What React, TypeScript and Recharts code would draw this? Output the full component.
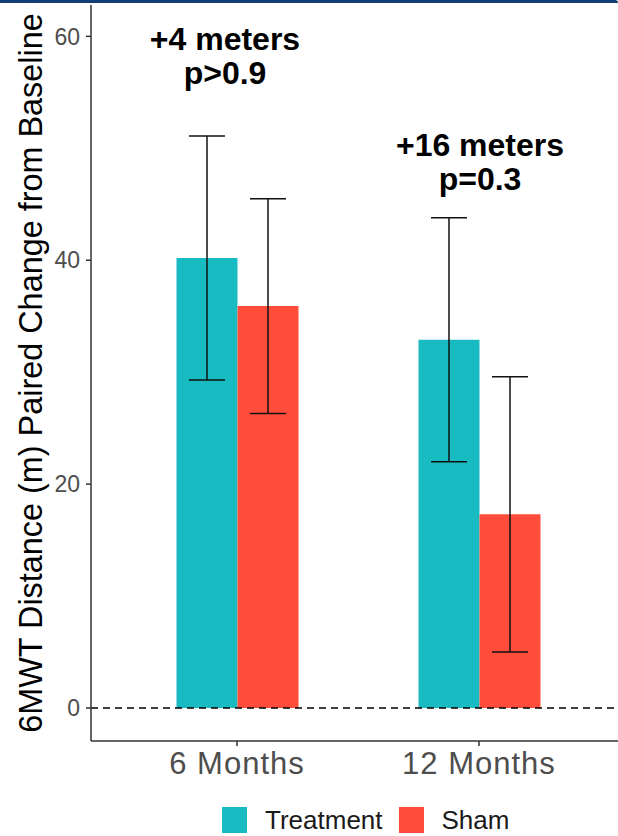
import React from "react";
import { ComposedChart, Bar, XAxis, YAxis, ErrorBar, ReferenceLine, ReferenceDot, Legend } from "recharts";

const categories = ["6 Months", "12 Months"];
const treatment = [40.2, 32.9];
const sham = [35.9, 17.3];
const treatmentErr = [10.9, 10.9];
const shamErr = [9.6, 12.3];
const yTicks = [0, 20, 40, 60];
const annotY = [58.1, 48.6];
const annotLines = [
  ["+4 meters", "p>0.9"],
  ["+16 meters", "p=0.3"],
];

const TEAL = "#19BBC3";
const RED = "#FF4C3B";
const FONT = "'Liberation Sans', Arial, sans-serif";
const NUDGE = [-12, 1];

const data = categories.map((name, i) => ({
  name,
  treatment: treatment[i],
  sham: sham[i],
  tErr: treatmentErr[i],
  sErr: shamErr[i],
}));

function Annot(props: any) {
  const { cx, cy, idx } = props;
  const x = cx + NUDGE[idx];
  return (
    <g>
      <text x={x} y={cy - 8} textAnchor="middle" fontFamily={FONT} fontWeight="bold" fontSize={32} fill="#000">
        {annotLines[idx][0]}
      </text>
      <text x={x} y={cy + 26} textAnchor="middle" fontFamily={FONT} fontWeight="bold" fontSize={32} fill="#000">
        {annotLines[idx][1]}
      </text>
    </g>
  );
}

function YTitle(props: any) {
  const vb = props.viewBox;
  const cy = vb.y + vb.height / 2;
  return (
    <text x={42} y={cy} transform={`rotate(-90 42 ${cy})`} textAnchor="middle" fontFamily={FONT} fontSize={32.4} fill="#000">
      6MWT Distance (m) Paired Change from Baseline
    </text>
  );
}

function renderLegend() {
  const items = [
    { label: "Treatment", color: TEAL },
    { label: "Sham", color: RED },
  ];
  return (
    <div style={{ height: 36, display: "flex", alignItems: "flex-start", paddingLeft: 222, paddingTop: 7, boxSizing: "border-box", fontFamily: FONT }}>
      {items.map((it, i) => (
        <div key={it.label} style={{ display: "flex", alignItems: "center", marginLeft: i ? 16 : 0 }}>
          <div style={{ width: 25, height: 26, background: it.color }} />
          <span style={{ marginLeft: 18, fontSize: 26, color: "#1a1a1a", lineHeight: "26px" }}>{it.label}</span>
        </div>
      ))}
    </div>
  );
}

export default function App() {
  return (
    <div style={{ position: "absolute", left: 0, top: 0, width: 618, height: 836, background: "#fff" }}>
      <div style={{ position: "absolute", left: 0, top: 0, width: 618, height: 3, background: "#123f73", borderTopRightRadius: 6 }} />
      <ComposedChart
        width={618}
        height={836}
        data={data}
        margin={{ top: 5, right: 0, left: 0, bottom: 0 }}
        barCategoryGap="25%"
        barGap={0}
      >
        <XAxis
          dataKey="name"
          height={59}
          padding={{ left: 25, right: 18 }}
          tickSize={5}
          tickMargin={6}
          axisLine={{ stroke: "#333", strokeWidth: 1.5 }}
          tickLine={{ stroke: "#333", strokeWidth: 1.5 }}
          tick={{ fill: "#4d4d4d", fontSize: 31, fontFamily: FONT, letterSpacing: 1 }}
        />
        <YAxis
          type="number"
          width={91}
          domain={[-2.95, 62.8]}
          ticks={yTicks}
          tickSize={5}
          tickMargin={6}
          axisLine={{ stroke: "#333", strokeWidth: 1.5 }}
          tickLine={{ stroke: "#333", strokeWidth: 1.5 }}
          tick={{ fill: "#4d4d4d", fontSize: 23, fontFamily: FONT }}
          label={{ content: YTitle }}
        />
        <Bar dataKey="treatment" name="Treatment" fill={TEAL} isAnimationActive={false}>
          <ErrorBar dataKey="tErr" width={18} stroke="#111" strokeWidth={1.5} isAnimationActive={false} />
        </Bar>
        <Bar dataKey="sham" name="Sham" fill={RED} isAnimationActive={false}>
          <ErrorBar dataKey="sErr" width={18} stroke="#111" strokeWidth={1.5} isAnimationActive={false} />
        </Bar>
        <ReferenceLine y={0} stroke="#000" strokeWidth={1.5} strokeDasharray="7 5" />
        {categories.map((c, i) => (
          <ReferenceDot
            key={c}
            x={c}
            y={annotY[i]}
            r={0}
            shape={(p: any) => <Annot {...p} idx={i} />}
          />
        ))}
        <Legend verticalAlign="bottom" height={36} content={renderLegend} />
      </ComposedChart>
    </div>
  );
}
